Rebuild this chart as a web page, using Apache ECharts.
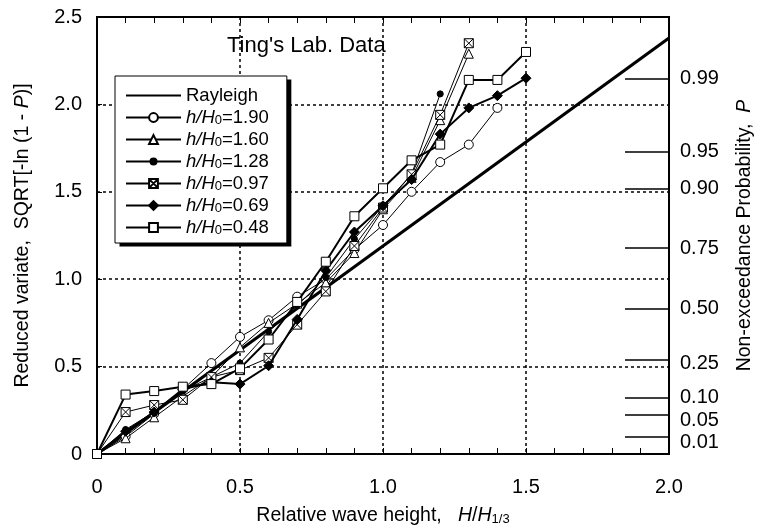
<!DOCTYPE html>
<html><head><meta charset="utf-8">
<script src="https://cdn.jsdelivr.net/npm/echarts@6/dist/echarts.min.js"></script>
<style>html,body{margin:0;padding:0;background:#fff}#c{width:763px;height:531px}#dbg{position:absolute;left:-3000px;top:330px;width:430px;font:11px monospace;color:red;white-space:pre-wrap}</style>
</head><body><div id="c"></div><div id="dbg"></div>
<script>
const log = s => { document.getElementById('dbg').textContent += s + '\n'; };
window.onerror = (m, s, l, c) => log('ERR ' + m + ' @' + l + ':' + c);
// ---- data ----
const xValues = [0, 0.1, 0.2, 0.3, 0.4, 0.5, 0.6, 0.7, 0.8, 0.9, 1.0, 1.1, 1.2, 1.3, 1.4, 1.5];
const rayleighX = [0, 2.0];
const rayleighY = [0, 2.38];
const ratioLabels = ['1.90', '1.60', '1.28', '0.97', '0.69', '0.48'];
const s190 = [0, 0.10, 0.23, 0.37, 0.52, 0.67, 0.765, 0.90, 1.00, 1.17, 1.31, 1.50, 1.67, 1.77, 1.98];
const s160 = [0, 0.09, 0.21, 0.33, 0.44, 0.61, 0.75, 0.86, 0.98, 1.15, 1.40, 1.58, 1.91, 2.29];
const s128 = [0, 0.14, 0.24, 0.36, 0.44, 0.52, 0.70, 0.85, 1.01, 1.23, 1.42, 1.60, 2.06];
const s097 = [0, 0.24, 0.28, 0.31, 0.44, 0.48, 0.55, 0.74, 0.93, 1.19, 1.41, 1.60, 1.94, 2.35];
const s069 = [0, 0.13, 0.24, 0.37, 0.41, 0.40, 0.505, 0.77, 1.05, 1.27, 1.42, 1.57, 1.83, 1.98, 2.05, 2.15];
const s048 = [0, 0.34, 0.36, 0.385, 0.40, 0.49, 0.655, 0.87, 1.10, 1.36, 1.52, 1.68, 1.77, 2.14, 2.14, 2.30];
const probTicks = [0.01, 0.05, 0.10, 0.25, 0.50, 0.75, 0.90, 0.95, 0.99];
const xTicks = ['0', '0.5', '1.0', '1.5', '2.0'];
const yTicks = ['0', '0.5', '1.0', '1.5', '2.0', '2.5'];

const FONT = 'Liberation Sans, Arial, Helvetica, sans-serif';
const probPos = probTicks.map(p => Math.sqrt(-Math.log(1 - p)));
const pairs = arr => arr.map((v, i) => [xValues[i], v]);
const names = ratioLabels.map(r => "h/H0'=" + r);

const xSquare = 'path://M0,0L10,0L10,10L0,10Z M0,0L10,10 M10,0L0,10';
const smallDot = 'path://M0,0L0,0 M10,10L10,10 M1.6,5A3.4,3.4 0 1,0 8.4,5A3.4,3.4 0 1,0 1.6,5Z';
const styles = [
  {symbol: 'circle', size: 9, fill: '#fff', lw: 1},
  {symbol: 'triangle', size: 9, fill: '#fff', lw: 1},
  {symbol: smallDot, size: 9, fill: '#000', lw: 1},
  {symbol: xSquare, size: 9, fill: '#fff', lw: 1},
  {symbol: 'diamond', size: 10, fill: '#000', lw: 2},
  {symbol: 'rect', size: 9, fill: '#fff', lw: 2}
];
const dataSets = [s190, s160, s128, s097, s069, s048];

const series = [{
  name: 'Rayleigh', type: 'line', symbol: 'none', z: 3,
  lineStyle: {color: '#000', width: 3},
  itemStyle: {color: '#000'},
  data: rayleighX.map((x, i) => [x, rayleighY[i]])
}].concat(dataSets.map((d, k) => ({
  name: names[k], type: 'line', z: 4 + k,
  symbol: styles[k].symbol, symbolSize: styles[k].size,
  lineStyle: {color: '#000', width: styles[k].lw},
  itemStyle: {color: styles[k].fill, borderColor: '#000', borderWidth: 1},
  data: pairs(d)
})));

const LFS = 18.5;
const legend = {
  orient: 'vertical', left: 115, top: 76, z: 4,
  padding: [10, 18, 6, 10], itemGap: 3, itemWidth: 55, itemHeight: 11,
  backgroundColor: '#fff', borderColor: '#000', borderWidth: 1,
  data: [{name: 'Rayleigh', itemStyle: {opacity: 0}}].concat(names),
  formatter: n => n === 'Rayleigh' ? 'Rayleigh' : '{i|h/H}{s|0}' + n.slice(5),
  textStyle: {fontFamily: FONT, fontSize: LFS, color: '#000',
    rich: {i: {fontStyle: 'italic', fontSize: LFS, fontFamily: FONT},
           s: {fontSize: 13, verticalAlign: 'bottom', fontFamily: FONT}}}
};

const AFS = 20, NFS = 19.5;
const black = {color: '#000', width: 1};
const chart = echarts.init(document.getElementById('c'));
const base = {
  animation: false,
  textStyle: {fontFamily: FONT, color: '#000'},
  grid: {left: 97, right: 94, top: 17, bottom: 75, show: true, borderColor: '#000', borderWidth: 2, backgroundColor: 'transparent'},
  xAxis: [{
    type: 'value', position: 'bottom', min: 0, max: 2, interval: 0.5,
    axisLine: {show: true, onZero: false, lineStyle: {color: '#000', width: 2}},
    axisTick: {show: true, inside: true, length: 6, lineStyle: black},
    minorTick: {show: true, splitNumber: 5, length: 6, lineStyle: black},
    splitLine: {show: true, lineStyle: {color: '#000', type: [3, 3], width: 1.5}},
    axisLabel: {margin: 23, fontSize: AFS, color: '#000', fontFamily: FONT,
      formatter: v => xTicks[Math.round(v / 0.5)]}
  }, {
    type: 'value', position: 'top', min: 0, max: 2, interval: 0.5,
    axisLine: {show: true, onZero: false, lineStyle: {color: '#000', width: 2}},
    axisTick: {show: true, inside: true, length: 6, lineStyle: black},
    minorTick: {show: true, splitNumber: 5, length: 6, lineStyle: black},
    splitLine: {show: false}, axisLabel: {show: false}
  }],
  yAxis: [{
    type: 'value', position: 'left', min: 0, max: 2.5, interval: 0.5,
    axisLine: {show: true, onZero: false, lineStyle: {color: '#000', width: 2}},
    axisTick: {show: true, inside: true, length: 5, lineStyle: black},
    splitLine: {show: true, lineStyle: {color: '#000', type: [3, 3], width: 1.5}},
    axisLabel: {margin: 15, fontSize: AFS, color: '#000', fontFamily: FONT,
      formatter: v => yTicks[Math.round(v / 0.5)]}
  }, {
    type: 'value', position: 'right', min: 0, max: 2.5,
    axisLine: {show: true, onZero: false, lineStyle: {color: '#000', width: 2}},
    axisTick: {show: true, inside: true, length: 44, customValues: probPos, lineStyle: {color: '#000', width: 1.5}},
    splitLine: {show: false},
    axisLabel: {margin: 11, fontSize: AFS, color: '#000', fontFamily: FONT, customValues: probPos,
      formatter: v => (1 - Math.exp(-v * v)).toFixed(2)}
  }],
  series: series
};
const steps = [
  ['base', base],
  ['title', {title: {text: "Ting's Lab. Data", left: 227, top: 35, padding: 0,
    textStyle: {fontFamily: FONT, fontSize: 22, fontWeight: 'normal', color: '#000'}}}],
  ['legend', {legend: legend}],
  ['xname', {xAxis: [{name: 'Relative wave height,   {i|H}/{i|H}{s|1/3}', nameLocation: 'middle', nameGap: 52,
    nameTextStyle: {fontSize: NFS, color: '#000', fontFamily: FONT,
      rich: {i: {fontStyle: 'italic', fontSize: NFS, fontFamily: FONT},
             s: {fontSize: 13, verticalAlign: 'bottom', fontFamily: FONT}}}}, {}]}],
  ['ynames', {yAxis: [{name: 'Reduced variate,  SQRT[-ln (1 - {i|P})]', nameLocation: 'middle', nameGap: 64, nameRotate: 90,
    nameTextStyle: {fontSize: NFS, color: '#000', fontFamily: FONT,
      rich: {i: {fontStyle: 'italic', fontSize: NFS, fontFamily: FONT}}}},
    {name: 'Non-exceedance Probability,  {i|P}', nameLocation: 'middle', nameGap: 66, nameRotate: 90,
    nameTextStyle: {fontSize: NFS, color: '#000', fontFamily: FONT,
      rich: {i: {fontStyle: 'italic', fontSize: NFS, fontFamily: FONT}}}}]}],
  ['rlabelrich', {yAxis: [{}, {axisLabel: {
      formatter: v => {
        const p = (1 - Math.exp(-v * v)).toFixed(2);
        const shift = p === '0.01' || p === '0.05' ? 'd' : (p === '0.25' ? 'e' : 'n');
        return '{' + shift + '|' + p + '}';
      },
      rich: {
        n: {fontSize: AFS, fontFamily: FONT},
        d: {fontSize: AFS, fontFamily: FONT, padding: [13, 0, 0, 0]},
        e: {fontSize: AFS, fontFamily: FONT, padding: [6, 0, 0, 0]}
      }}}]}]
];
for (const [nm, opt] of steps) {
  try { chart.setOption(opt); log('ok ' + nm); }
  catch (e) { log('FAIL ' + nm + ': ' + e.message); }
}
try {
  const lm = chart.getModel().getComponent('legend', 0);
  const view = chart.getViewOfComponentModel(lm);
  const b = view.group.getBoundingRect();
  const box = {x: view.group.x + b.x, y: view.group.y + b.y, width: b.width, height: b.height};
  log('box ' + JSON.stringify(box));
  chart.setOption({graphic: [{type: 'rect', z: 3, silent: true,
    shape: {x: box.x + 5, y: box.y + 4, width: box.width - 1, height: box.height - 1}, style: {fill: '#000'}}]});
  log('ok shadow');
} catch (e) { log('FAIL shadow: ' + e.message); }
try { chart.getZr().flush(); } catch (e) {}
</script></body></html>
